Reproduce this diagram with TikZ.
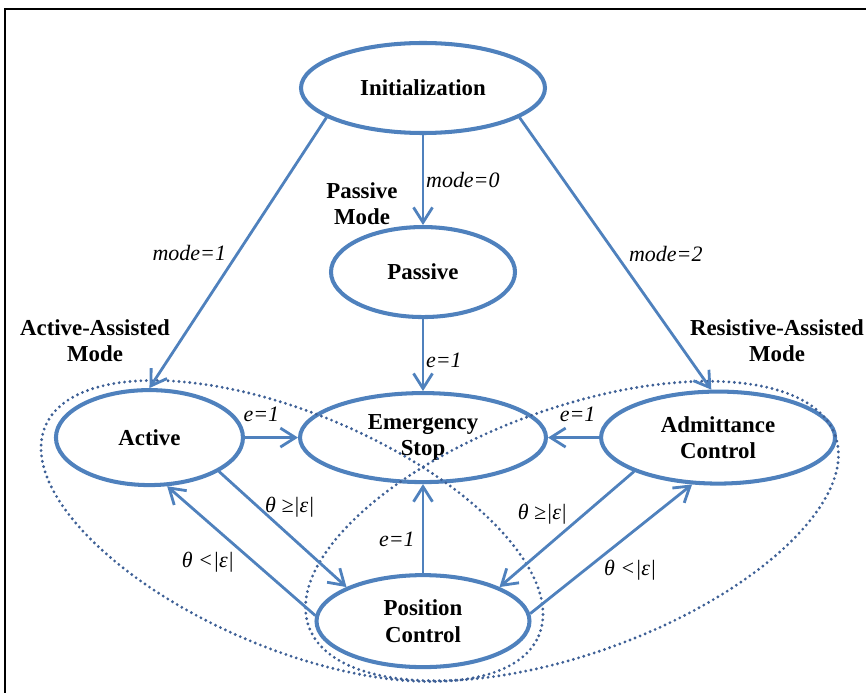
\documentclass[tikz,border=0pt]{standalone}
\usepackage{fontspec}
\setmainfont{Liberation Serif}
\usetikzlibrary{shapes.geometric, arrows.meta, positioning}
\definecolor{stblue}{RGB}{79,129,189}
\definecolor{grpblue}{RGB}{62,96,150}
\newcommand{\statefont}{\fontsize{13}{15}\selectfont\bfseries}
\newcommand{\lblfont}{\fontsize{12.5}{14}\selectfont\itshape}

\begin{document}
\begin{tikzpicture}[
    state/.style={ellipse, draw=stblue, line width=2.3pt, inner sep=0pt, align=center, font=\statefont},
    modename/.style={align=center, font=\statefont},
    lbl/.style={font=\lblfont, inner sep=1pt},
    arrow/.style={draw=stblue, line width=1.6pt, -{Straight Barb[length=3mm, width=3.8mm]}},
    grp/.style={draw=grpblue, line width=1.8pt, line cap=round, dash pattern=on 0pt off 3.1pt}
]
    \useasboundingbox (0,0) rectangle (17.32,-13.86);
    \draw[line width=1.1pt] (0.1,-13.86) -- (0.1,-0.18) -- (17.32,-0.18);

    \node[state, minimum width=4.88cm, minimum height=1.8cm] (init) at (8.46,-1.76) {Initialization};
    \node[state, minimum width=3.68cm, minimum height=1.8cm, below=1.80cm of init] (passive) {Passive};
    \node[state, minimum width=4.92cm, minimum height=1.78cm, below=1.44cm of passive] (estop) {Emergency\\Stop};
    \node[state, minimum width=3.74cm, minimum height=1.9cm, left=1.06cm of estop] (active) {Active};
    \node[state, minimum width=4.68cm, minimum height=1.84cm, right=1.02cm of estop] (admit) {Admittance\\Control};
    \node[state, minimum width=4.26cm, minimum height=1.84cm, below=1.78cm of estop] (posctl) {Position\\Control};

    \node[modename] (passivemode) at (7.24,-4.08) {Passive\\Mode};
    \node[modename] (activemode) at (1.9,-6.82) {Active-Assisted\\Mode};
    \node[modename] (resistmode) at (15.54,-6.82) {Resistive-Assisted\\Mode};

    % mode groups
    \draw[grp, rotate around={-23:(5.84,-10.62)}] (5.84,-10.62) ellipse (5.36cm and 2.35cm);
    \draw[grp, rotate around={20:(11.44,-10.62)}] (11.44,-10.62) ellipse (5.6cm and 2.45cm);

    \draw[arrow] (init.197) -- node[lbl, pos=0.5, left=5pt] {mode=1} (active.north);
    \draw[arrow] (init) -- node[lbl, pos=0.5, right=0pt] {mode=0} (passive);
    \draw[arrow] (init.343) -- node[lbl, pos=0.5, right=6pt] {mode=2} (admit.98);
    \draw[arrow] (passive) -- node[lbl, pos=0.57, right=0pt] {e=1} (estop);
    \draw[arrow] (active) -- node[lbl, pos=0.31, above=7pt] {e=1} (estop);
    \draw[arrow] (admit) -- node[lbl, pos=0.42, above=7pt] {e=1} (estop);
    \draw[arrow] (active.334) -- node[lbl, pos=0.31, right=2pt] {θ ≥|ε|} (posctl.156);
    \draw[arrow] (posctl.177) -- node[lbl, pos=0.41, left=10pt] {θ <|ε|} (active.290);
    \draw[arrow] (posctl) -- node[lbl, pos=0.38, left=3pt] {e=1} (estop);
    \draw[arrow] (admit.202) -- node[lbl, pos=0.37, left=8pt] {θ ≥|ε|} (posctl.24);
    \draw[arrow] (posctl.4) -- node[lbl, pos=0.34, right=9pt] {θ <|ε|} (admit.241);
\end{tikzpicture}
\end{document}
